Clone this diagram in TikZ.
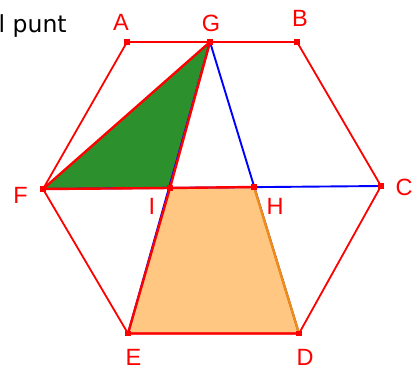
\documentclass[tikz,border=0pt]{standalone}
\usepackage{fontspec}
\setmainfont{Liberation Sans}
\newfontfamily\dejavu{DejaVu Sans}
\definecolor{ggred}{RGB}{255,0,0}
\definecolor{ggblue}{RGB}{0,0,255}
\definecolor{gggreen}{RGB}{44,145,44}
\definecolor{ggorange}{RGB}{255,199,130}
\definecolor{ggorangeedge}{RGB}{240,140,20}
\tikzset{
  pt/.style={fill=ggred, draw=none, minimum size=5.5pt, inner sep=0pt, outer sep=0pt, rectangle},
  lbl/.style={text=ggred, inner sep=0pt, font=\fontsize{23.5}{26}\selectfont},
  hexedge/.style={draw=ggred, line width=1.8pt},
  polyedge/.style={draw=ggred, line width=2.4pt, line join=round},
  blueline/.style={draw=ggblue, line width=1.9pt},
}
\begin{document}
\begin{tikzpicture}[x=1pt,y=-1pt]
\useasboundingbox (0,0) rectangle (420,372);
% points
\coordinate (A) at (127,42);
\coordinate (G) at (210,42);
\coordinate (B) at (297,42);
\coordinate (C) at (381,186);
\coordinate (D) at (299,333.5);
\coordinate (E) at (128,333.5);
\coordinate (F) at (43,189);
\coordinate (I) at (170,188);
\coordinate (H) at (254,187);
% fills
\fill[gggreen] (F) -- (G) -- (I) -- cycle;
\fill[ggorange] (I) -- (H) -- (D) -- (E) -- cycle;
% blue lines
\draw[blueline] (F) -- (C);
\draw[blueline] (G) -- (E);
\draw[blueline] (G) -- (D);
% hexagon
\draw[hexedge, line join=round] (A) -- (B) -- (C) -- (D) -- (E) -- (F) -- cycle;
% polygon edges
\draw[polyedge] (F) -- (G) -- (I) -- cycle;
\draw[polyedge] (D) -- (E) -- (I) -- (H);
\draw[draw=ggorangeedge, line width=2.4pt] (H) -- (D);
% point markers
\foreach \p in {A,G,B,C,D,E,F,I,H} \node[pt] (m\p) at (\p) {};
% labels
\node[lbl] (lA) at (121,22) {A};
\node[lbl] (lG) at (211,23) {G};
\node[lbl] (lB) at (300,18.5) {B};
\node[lbl] (lC) at (404,187) {C};
\node[lbl] (lF) at (20.5,195) {F};
\node[lbl] (lI) at (152,206) {I};
\node[lbl] (lH) at (275,206) {H};
\node[lbl] (lE) at (133.5,357.5) {E};
\node[lbl] (lD) at (305,357.5) {D};
% text
\node[anchor=base west, inner sep=0pt, font=\dejavu\fontsize{23.5}{26}\selectfont] (txt) at (-1.5,32) {l punt};
\end{tikzpicture}
\end{document}
